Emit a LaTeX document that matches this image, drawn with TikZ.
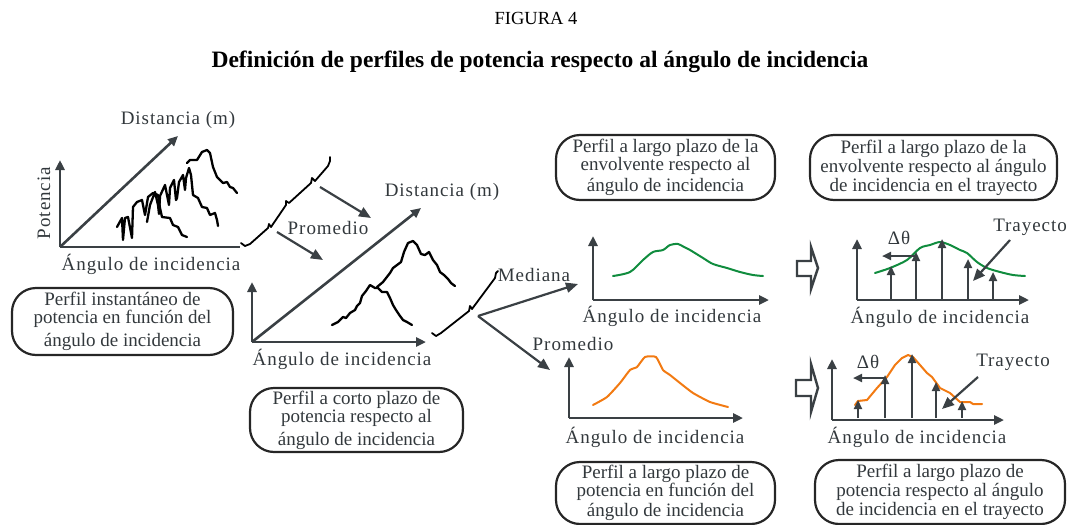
\documentclass[tikz,border=0pt]{standalone}
\usepackage{fontspec}
\setmainfont{Liberation Serif}
\newfontfamily\rotulo[LetterSpace=5]{Liberation Serif}
\usepackage{tikz}
\usetikzlibrary{arrows.meta,positioning}

\definecolor{ejegris}{RGB}{58,64,68}
\definecolor{texto}{RGB}{50,56,60}
\definecolor{verde}{RGB}{16,140,62}
\definecolor{naranja}{RGB}{242,122,18}

\tikzset{
  eje/.style={color=ejegris, line width=2.6pt, -{Triangle[length=10pt,width=9pt]}},
  flecha/.style={color=ejegris, line width=2.2pt, -{Triangle[length=12pt,width=10pt]}},
  tallo/.style={color=ejegris, line width=2.2pt, -{Triangle[length=9pt,width=8pt]}},
  senal/.style={line width=2.3pt, line join=round, line cap=round},
  lbl/.style={text=texto, font=\rotulo\fontsize{19}{20}\selectfont, inner sep=0pt},
  caja/.style={draw=black!85, line width=2.2pt, rounded corners=24pt, text=texto,
    align=center, inner sep=0pt, font=\fontsize{19}{18}\selectfont},
  hueca/.style={draw=ejegris, line width=2.4pt, fill=white, line join=miter}
}

\begin{document}
\begin{tikzpicture}[x=1pt,y=-1pt]
\useasboundingbox (0,0) rectangle (1069,525);

\node[font=\fontsize{18.5}{18}\selectfont] (fig) at (536,18) {FIGURA 4};
\node[font=\bfseries\fontsize{23.5}{24}\selectfont] (titulo) at (540,62)
  {Definición de perfiles de potencia respecto al ángulo de incidencia};

% perfil instantaneo
\coordinate (o1) at (60,247);
\draw[eje] (o1) -- (60,160);
\draw[color=ejegris, line width=2.6pt] (o1) -- (240,247);
\draw[eje] (o1) -- (178,136);
\node[lbl] (dist1) at (178,120) {Distancia (m)};
\node[lbl, rotate=90] (pot1) at (44,203) {Potencia};
\node[lbl] (ang1) at (151,264) {Ángulo de incidencia};

\draw[senal] (117,227) -- (122,218) -- (123,240) -- (125,218) -- (128,217) -- (132,238)
  -- (133,207) -- (137,202) -- (142,200) -- (145,215) -- (148,197) -- (153,193)
  -- (158,195) -- (160,208) -- (162,217) -- (170,218) -- (173,225) -- (178,227)
  -- (182,235) -- (187,237);
\draw[senal] (147,222) -- (150,205) -- (155,192) -- (158,205) -- (159,214) -- (160,196)
  -- (165,185) -- (168,200) -- (169,205) -- (170,188) -- (174,180) -- (176,200)
  -- (177,198) -- (179,182) -- (183,175) -- (185,190) -- (186,178) -- (189,168)
  -- (191,175) -- (193,195) -- (198,198) -- (202,207) -- (207,208) -- (210,215)
  -- (215,213) -- (217,220) -- (218,226);
\draw[senal] (187,163) -- (190,160) -- (197,160) -- (202,152) -- (207,150) -- (210,153)
  -- (213,167) -- (217,177) -- (220,180) -- (223,183) -- (227,182) -- (230,187)
  -- (233,188) -- (237,193);

% promedio 1
\draw[senal, line width=1.8pt] (241,243) -- (245,246) -- (250,244) -- (268,228) -- (269,224)
  -- (271,227) -- (286,205) -- (286,201) -- (289,203) -- (311,183) -- (312,178)
  -- (315,181) -- (328,166) -- (330,161) -- (330,157);
\coordinate (p1a) at (320,187);
\coordinate (p1b) at (371,218);
\coordinate (p2a) at (277,232);
\coordinate (p2b) at (323,260);
\draw[flecha] (p1a) -- (p1b);
\draw[flecha] (p2a) -- (p2b);
\node[lbl] (prom1) at (328,228) {Promedio};

% perfil a corto plazo
\coordinate (o2) at (252,342);
\draw[eje] (o2) -- (252,282);
\draw[eje] (o2) -- (426,342);
\draw[eje] (o2) -- (421,208);
\node[lbl] (dist2) at (442,192) {Distancia (m)};
\node[lbl] (ang2) at (342,359) {Ángulo de incidencia};

\draw[senal] (332,325) -- (338,322) -- (343,317) -- (346,318) -- (350,313) -- (355,310)
  -- (357,306) -- (360,303) -- (362,296) -- (366,291) -- (370,285) -- (375,288)
  -- (378,288) -- (382,292) -- (387,292) -- (390,298) -- (393,305) -- (396,310)
  -- (400,316) -- (403,320) -- (407,322) -- (412,325);
\draw[senal] (377,287) -- (383,282) -- (390,273) -- (393,268) -- (397,265) -- (401,262)
  -- (404,252) -- (408,243) -- (413,241) -- (417,245) -- (421,254) -- (425,255)
  -- (429,252) -- (433,260) -- (437,265) -- (440,272) -- (444,275) -- (448,279)
  -- (451,283) -- (455,286);

\draw[senal, line width=1.8pt] (432,333) -- (436,336) -- (441,333) -- (469,311) -- (470,306)
  -- (472,309) -- (495,278) -- (496,273) -- (498,271);
\coordinate (rama) at (478,316);
\coordinate (amed) at (578,284);
\coordinate (aprom) at (550,370);
\draw[flecha] (rama) -- (amed);
\draw[flecha] (rama) -- (aprom);
\node[lbl] (mediana) at (534,275) {Mediana};
\node[lbl] (prom2) at (573,344) {Promedio};

% envolvente (mediana)
\coordinate (o3) at (593,300);
\draw[eje] (o3) -- (593,236);
\draw[eje] (o3) -- (769,300);
\draw[senal, verde, line width=2pt] plot[smooth, tension=0.5] coordinates {(613,276) (630,272)
  (643,260) (653,252) (663,250) (670,245) (678,244) (684,247) (690,250) (703,258)
  (713,264) (727,268) (740,272) (753,275) (763,276)};
\node[lbl] (ang3) at (672,316) {Ángulo de incidencia};
\node[caja, minimum width=219pt, minimum height=65pt] (caja3) at (665.5,167.5)
  {Perfil a largo plazo de la\\envolvente respecto al\\[3pt] ángulo de incidencia};

\draw[hueca] (797,261) -- (811,261) -- (811,247) -- (818,268) -- (811,289) -- (811,276)
  -- (797,276) -- cycle;

\coordinate (o4) at (857,300);
\draw[eje] (o4) -- (857,239);
\draw[eje] (o4) -- (1029,300);
\draw[senal, verde, line width=2pt] plot[smooth, tension=0.5] coordinates {(875,273) (890,268)
  (907,260) (920,248) (930,245) (940,242) (950,245) (960,250) (967,253) (977,262)
  (987,268) (1000,272) (1013,275) (1025,276)};
\foreach \x/\y in {891/266, 916/252, 942/239, 968/259, 993/272}
  \draw[tallo] (\x,300) -- (\x,\y);
\coordinate (d4a) at (916,256);
\coordinate (d4b) at (882,256);
\draw[tallo] (d4a) -- (d4b);
\node[lbl] (dt4) at (899,238) {Δθ};
\node[lbl] (tray4) at (1030,227) {Trayecto};
\coordinate (t4a) at (1010,240);
\coordinate (t4b) at (973,281);
\draw[flecha] (t4a) -- (t4b);
\node[lbl] (ang4) at (940,317) {Ángulo de incidencia};
\node[caja, minimum width=247pt, minimum height=65pt] (caja4) at (933.5,167.5)
  {Perfil a largo plazo de la\\[1pt]envolvente respecto al ángulo\\[1pt]de incidencia en el trayecto};

% potencia (promedio)
\coordinate (o5) at (569,418);
\draw[eje] (o5) -- (569,357);
\draw[eje] (o5) -- (743,418);
\draw[senal, naranja, line width=2pt] plot[smooth, tension=0.3] coordinates {(593,405) (607,397)
  (620,383) (630,370) (637,367) (645,357) (656,357) (663,370) (670,375) (680,383)
  (693,393) (710,402) (728,407)};
\node[lbl] (ang5) at (655,437) {Ángulo de incidencia};
\node[caja, minimum width=219pt, minimum height=62pt] (caja5) at (665.5,493)
  {Perfil a largo plazo de\\potencia en función del\\[2pt] ángulo de incidencia};

\draw[hueca] (796,380) -- (811,380) -- (811,364) -- (818,388) -- (811,412) -- (811,396)
  -- (796,396) -- cycle;

\coordinate (o6) at (832,420);
\draw[eje] (o6) -- (832,359);
\draw[eje] (o6) -- (1004,420);
\draw[senal, naranja, line width=2pt] (855,405) -- (858,401) -- (867,400) -- (877,388)
  -- (887,377) -- (895,365) -- (902,358) -- (908,355) -- (913,357) -- (920,365)
  -- (927,373) -- (932,377) -- (940,388) -- (950,393) -- (960,402) -- (970,402)
  -- (973,404) -- (982,404);
\foreach \x/\y in {858/400, 885/375, 912/354, 936/382, 962/401}
  \draw[tallo] (\x,418) -- (\x,\y);
\coordinate (d6a) at (885,378);
\coordinate (d6b) at (853,378);
\draw[tallo] (d6a) -- (d6b);
\node[lbl] (dt6) at (868,362) {Δθ};
\node[lbl] (tray6) at (1013,362) {Trayecto};
\coordinate (t6a) at (978,377);
\coordinate (t6b) at (942,409);
\draw[flecha] (t6a) -- (t6b);
\node[lbl] (ang6) at (917,437) {Ángulo de incidencia};
\node[caja, minimum width=250pt, minimum height=64pt] (caja6) at (940,492)
  {Perfil a largo plazo de\\[1pt]potencia respecto al ángulo\\[1pt]de incidencia en el trayecto};

% cajas de la izquierda
\node[caja, minimum width=221pt, minimum height=67pt] (caja1) at (122.5,321.5)
  {Perfil instantáneo de\\potencia en función del\\[5pt]ángulo de incidencia};
\node[caja, minimum width=213pt, minimum height=64pt] (caja2) at (356.5,420)
  {Perfil a corto plazo de\\potencia respecto al\\[5pt]ángulo de incidencia};

\end{tikzpicture}
\end{document}
